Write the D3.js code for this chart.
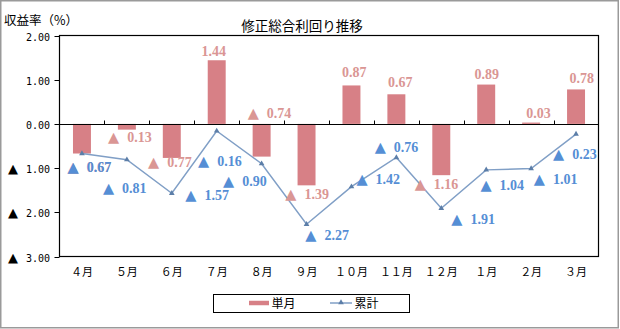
<!DOCTYPE html>
<html>
<head>
<meta charset="utf-8">
<script src="https://cdn.jsdelivr.net/npm/d3@7"></script>
<style>
  html, body { margin: 0; padding: 0; background: #fff; }
  svg { display: block; }
</style>
</head>
<body>
<svg id="chart" width="620" height="329"></svg>
<script>
// Months of the fiscal year (April to March)
const months = ["４月","５月","６月","７月","８月","９月","１０月","１１月","１２月","１月","２月","３月"];
// Monthly return (%)
const monthly = [-0.67, -0.13, -0.77, 1.44, -0.74, -1.39, 0.87, 0.67, -1.16, 0.89, 0.03, 0.78];
// Cumulative return (%)
const cumulative = [-0.67, -0.81, -1.57, -0.16, -0.90, -2.27, -1.42, -0.76, -1.91, -1.04, -1.01, -0.23];
// Y axis ticks
const yTicks = [2, 1, 0, -1, -2, -3];

// Hand-placed label offsets [dx, dy] from each mark's anchor point
const monthlyLabelOffset = [[-14.4,18],[-18.9,12.7],[-23.8,9],[-15.1,-4.7],[-14,-38.7],[-21.2,13.6],
                            [-9.4,-8.1],[-8.3,-7],[-26.6,13.4],[-11.8,-5.3],[-5,-4.7],[-6.6,-6.5]];
const cumulativeLabelOffset = [[-14.4,18],[-24,33],[13.5,7],[-18.7,34.6],[-38.6,22],[-1.2,15.4],
                               [5,-2.8],[-21.7,-5.2],[10,15.6],[-5.8,20.4],[2.6,15.3],[-23,24.8]];

const svg = d3.select("#chart");
const plotL = 59.5, plotR = 598.5, plotT = 35.5, plotB = 256.5;

const x = d3.scaleBand().domain(months).range([plotL, plotR]).padding(0);
const y = d3.scaleLinear().domain([-3, 2]).range([plotB, plotT]);

const barColor = "#D78086";
const monthLabelColor = "#DA9694";
const cumLabelColor = "#558ED5";
const lineColor = "#809FC6";
const markerColor = "#5C7EA8";

const labelFont = "'Liberation Serif', serif";
const cjkFont = "'Noto Sans CJK JP', sans-serif";

// Outer frame
svg.append("rect").attr("x", 0.75).attr("y", 0.75).attr("width", 617.5).attr("height", 327)
  .attr("fill", "#fff").attr("stroke", "#9a9a9a").attr("stroke-width", 1.5);

// Title
svg.append("text").attr("x", 302).attr("y", 30.5).attr("text-anchor", "middle")
  .attr("font-family", cjkFont).attr("font-size", 13.5).attr("fill", "#000")
  .text("修正総合利回り推移");

// Y axis title
svg.append("text").attr("x", 4).attr("y", 24.5).attr("font-family", cjkFont)
  .attr("font-size", 12.5).attr("fill", "#000").text("収益率（%）");

// Bars
const bw = x.bandwidth() * 0.4;
svg.append("g").selectAll("rect").data(monthly).join("rect")
  .attr("x", (d, i) => x(months[i]) + x.bandwidth() / 2 - bw / 2)
  .attr("y", d => y(Math.max(0, d)))
  .attr("width", bw)
  .attr("height", d => Math.abs(y(d) - y(0)))
  .attr("fill", barColor);

// Plot frame
svg.append("rect").attr("x", plotL).attr("y", plotT).attr("width", plotR - plotL).attr("height", plotB - plotT)
  .attr("fill", "none").attr("stroke", "#000").attr("stroke-width", 1.2);

// Y axis ticks and labels
const yg = svg.append("g");
yTicks.forEach(t => {
  const yy = Math.round(y(t)) + 0.5;
  yg.append("line").attr("x1", plotL - 5).attr("x2", plotL).attr("y1", yy).attr("y2", yy)
    .attr("stroke", "#000");
  const txt = yg.append("text").attr("x", 50).attr("y", yy + 4).attr("text-anchor", "end")
    .attr("fill", "#000");
  if (t < 0) {
    txt.append("tspan").attr("font-family", "'DejaVu Sans'").attr("font-size", 13).text("▲");
    txt.append("tspan").attr("font-family", "'DejaVu Sans Mono', monospace").attr("font-size", 10)
      .attr("dx", 2).text(" " + Math.abs(t).toFixed(2));
  } else {
    txt.append("tspan").attr("font-family", "'DejaVu Sans Mono', monospace").attr("font-size", 10)
      .text(t.toFixed(2));
  }
});

// Zero axis with category boundary ticks
const y0 = Math.round(y(0)) + 0.5;
svg.append("line").attr("x1", plotL).attr("x2", plotR).attr("y1", y0).attr("y2", y0)
  .attr("stroke", "#000").attr("stroke-width", 1);
months.forEach((m, i) => {
  if (i === 0) return;
  const xx = Math.round(x(m)) + 0.5;
  svg.append("line").attr("x1", xx).attr("x2", xx).attr("y1", y0 - 4).attr("y2", y0)
    .attr("stroke", "#000");
});

// X category labels
svg.append("g").selectAll("text").data(months).join("text")
  .attr("x", d => x(d) + x.bandwidth() / 2)
  .attr("y", 275.5)
  .attr("text-anchor", "middle")
  .attr("font-family", cjkFont).attr("font-size", 11).attr("fill", "#000")
  .text(d => d);

// Cumulative line
const cx = i => x(months[i]) + x.bandwidth() / 2;
const line = d3.line().x((d, i) => cx(i)).y(d => y(d));
svg.append("path").datum(cumulative).attr("d", line)
  .attr("fill", "none").attr("stroke", lineColor).attr("stroke-width", 1.5);
const tri = d3.symbol().type(d3.symbolTriangle).size(14);
svg.append("g").selectAll("path").data(cumulative).join("path")
  .attr("transform", (d, i) => `translate(${cx(i)},${y(d)})`)
  .attr("d", tri).attr("fill", markerColor);

// Value labels: negative values are written with a leading ▲
function drawLabel(g, v, px, py, off, color) {
  const t = g.append("text").attr("x", px + off[0]).attr("y", py + off[1])
    .attr("fill", color).attr("font-weight", "bold");
  if (v < 0) {
    t.append("tspan").attr("font-family", "'DejaVu Sans'").attr("font-size", 14.5).text("▲");
    t.append("tspan").attr("font-family", labelFont).attr("font-size", 14).attr("dx", 4.5)
      .text(" " + Math.abs(v).toFixed(2));
  } else {
    t.append("tspan").attr("font-family", labelFont).attr("font-size", 14).text(v.toFixed(2));
  }
}
const lg = svg.append("g");
monthly.forEach((v, i) => {
  drawLabel(lg, v, cx(i), y(v), monthlyLabelOffset[i], monthLabelColor);
});
cumulative.forEach((v, i) => {
  drawLabel(lg, v, cx(i), y(v), cumulativeLabelOffset[i], cumLabelColor);
});

// Legend
const leg = svg.append("g");
leg.append("rect").attr("x", 213.5).attr("y", 294.5).attr("width", 196).attr("height", 18)
  .attr("fill", "#fff").attr("stroke", "#000");
leg.append("line").attr("x1", 249).attr("x2", 269).attr("y1", 303).attr("y2", 303)
  .attr("stroke", barColor).attr("stroke-width", 4.5);
leg.append("text").attr("x", 271.5).attr("y", 307.5).attr("font-family", cjkFont)
  .attr("font-size", 12).attr("fill", "#000").text("単月");
leg.append("line").attr("x1", 330).attr("x2", 352).attr("y1", 303).attr("y2", 303)
  .attr("stroke", lineColor).attr("stroke-width", 1.5);
leg.append("path").attr("transform", "translate(341,302.5)").attr("d", tri).attr("fill", markerColor);
leg.append("text").attr("x", 354.5).attr("y", 307.5).attr("font-family", cjkFont)
  .attr("font-size", 12).attr("fill", "#000").text("累計");
</script>
</body>
</html>
